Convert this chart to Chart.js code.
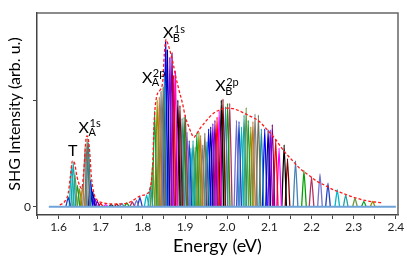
<!DOCTYPE html>
<html>
<head>
<meta charset="utf-8">
<script src="https://cdn.jsdelivr.net/npm/chart.js@4.4.1/dist/chart.umd.min.js"></script>
<style>
  html, body { margin: 0; padding: 0; background: #fff; }
  canvas { display: block; }
</style>
</head>
<body>
<canvas id="shgChart" width="407" height="257"></canvas>
<script>
// Individual SHG peaks: centre energy (eV) and height (arb. u.)
const peakEnergy = [
  1.623, 1.631, 1.635, 1.639, 1.645, 1.650, 1.657, 1.663, 1.668, 1.671,
  1.676, 1.681, 1.686, 1.692, 1.700, 1.712, 1.725, 1.738, 1.750, 1.762,
  1.775, 1.785, 1.793, 1.809, 1.818, 1.823, 1.828, 1.834, 1.839, 1.843,
  1.848, 1.851, 1.854, 1.858, 1.864, 1.869, 1.873, 1.877, 1.883, 1.888,
  1.893, 1.898, 1.901, 1.905, 1.910, 1.914, 1.919, 1.924, 1.928, 1.933,
  1.937, 1.942, 1.947, 1.952, 1.956, 1.961, 1.966, 1.971, 1.976, 1.981,
  1.986, 1.990, 1.996, 2.001, 2.006, 2.022, 2.028, 2.034, 2.040, 2.045,
  2.050, 2.056, 2.061, 2.066, 2.074, 2.081, 2.089, 2.097, 2.102, 2.107,
  2.115, 2.123, 2.135, 2.143, 2.162, 2.182, 2.200, 2.220, 2.239, 2.261,
  2.281, 2.303, 2.324, 2.345
];
const peakHeight = [
  0.09, 0.39, 0.42, 0.31, 0.20, 0.17, 0.19, 0.56, 0.64, 0.60,
  0.25, 0.14, 0.08, 0.05, 0.03, 0.02, 0.02, 0.025, 0.03, 0.035,
  0.045, 0.06, 0.09, 0.11, 0.19, 0.40, 0.90, 1.00, 1.03, 1.08,
  1.12, 1.22, 1.55, 1.47, 1.40, 1.44, 1.23, 1.27, 1.00, 0.95,
  0.83, 0.84, 0.86, 0.70, 0.62, 0.55, 0.62, 0.56, 0.69, 0.70,
  0.67, 0.58, 0.69, 0.61, 0.73, 0.75, 0.78, 0.81, 0.84, 0.90,
  1.00, 1.01, 0.94, 0.97, 0.97, 0.81, 0.80, 0.75, 0.86, 0.93,
  0.81, 0.75, 0.80, 0.87, 0.86, 0.73, 0.73, 0.72, 0.72, 0.77,
  0.63, 0.55, 0.58, 0.45, 0.43, 0.34, 0.28, 0.31, 0.22, 0.16,
  0.11, 0.08, 0.05, 0.05
];

// Red dashed envelope
const envEnergy = [
  1.603, 1.615, 1.623, 1.628, 1.633, 1.638, 1.644, 1.651, 1.655, 1.660,
  1.665, 1.668, 1.673, 1.678, 1.684, 1.692, 1.702, 1.730, 1.761, 1.777,
  1.793, 1.809, 1.817, 1.823, 1.827, 1.832, 1.840, 1.847, 1.851, 1.855,
  1.860, 1.866, 1.872, 1.878, 1.886, 1.894, 1.901, 1.909, 1.915, 1.921,
  1.927, 1.935, 1.951, 1.967, 1.983, 1.998, 2.014, 2.034, 2.054, 2.073,
  2.093, 2.113, 2.133, 2.153, 2.172, 2.192, 2.212, 2.232, 2.251, 2.271,
  2.291, 2.311, 2.330, 2.350, 2.368
];
const envHeight = [
  0.016, 0.05, 0.125, 0.28, 0.43, 0.41, 0.28, 0.19, 0.17, 0.34,
  0.63, 0.665, 0.56, 0.28, 0.125, 0.06, 0.04, 0.025, 0.03, 0.06,
  0.10, 0.12, 0.17, 0.375, 0.81, 1.02, 1.09, 1.17, 1.44, 1.57,
  1.52, 1.44, 1.34, 1.22, 1.09, 0.97, 0.84, 0.75, 0.69, 0.65,
  0.68, 0.73, 0.81, 0.875, 0.91, 0.925, 0.92, 0.89, 0.85, 0.81,
  0.73, 0.64, 0.53, 0.44, 0.36, 0.30, 0.24, 0.20, 0.16, 0.13,
  0.10, 0.075, 0.056, 0.044, 0.037
];

// Baseline extent
const baseEnergy = [1.577, 2.40];

// Axis ticks
const xTicks = [1.55, 1.6, 1.65, 1.7, 1.75, 1.8, 1.85, 1.9, 1.95, 2.0,
                2.05, 2.1, 2.15, 2.2, 2.25, 2.3, 2.35, 2.4];
const xTickLabels = ['', '1.6', '', '1.7', '', '1.8', '', '1.9', '', '2.0',
                     '', '2.1', '', '2.2', '', '2.3', '', '2.4'];
const yTicks = [0, 1];
const yTickLabels = ['0', ''];

// Peak annotations
const labelMain = ['T', 'X', 'X', 'X', 'X'];
const labelSup = ['', '1s', '2p', '1s', '2p'];
const labelSub = ['', 'A', 'A', 'B', 'B'];
const labelEnergy = [1.634, 1.660, 1.810, 1.860, 1.984];
const labelHeight = [0.52, 0.74, 1.21, 1.63, 1.13];

const palette = [
  '#2040c0', '#00b8c8', '#20a0a0', '#6a9a40', '#10a030', '#909000',
  '#c07830', '#808080', '#707058', '#1890a0', '#0000ff', '#000080',
  '#8000ff', '#800080', '#ff0000', '#ff00ff', '#000000', '#800000',
  '#4682b4', '#00a000', '#b03060', '#7070d0'
];

const FONT = 'Lato, "Open Sans", sans-serif';
const HALF_WIDTH = 0.0055;

function buildPeakDatasets() {
  return peakEnergy.map(function(e, i) {
    return {
      data: [
        { x: e - HALF_WIDTH, y: 0 },
        { x: e, y: peakHeight[i] },
        { x: e + HALF_WIDTH, y: 0 }
      ],
      borderColor: palette[i % palette.length],
      borderWidth: 1.3,
      pointRadius: 0,
      tension: 0.15,
      fill: false
    };
  });
}

const frame = {
  id: 'frame',
  afterDraw(chart) {
    const a = chart.chartArea;
    const ctx = chart.ctx;
    ctx.save();
    ctx.strokeStyle = '#666';
    ctx.lineWidth = 1.5;
    ctx.beginPath();
    ctx.moveTo(a.left, a.top);
    ctx.lineTo(a.right, a.top);
    ctx.lineTo(a.right, a.bottom);
    ctx.stroke();
    ctx.restore();
  }
};

const peakLabels = {
  id: 'peakLabels',
  afterDatasetsDraw(chart) {
    const ctx = chart.ctx;
    const sx = chart.scales.x, sy = chart.scales.y;
    ctx.save();
    ctx.fillStyle = '#000';
    ctx.textBaseline = 'middle';
    labelMain.forEach(function(t, i) {
      const px = sx.getPixelForValue(labelEnergy[i]);
      const py = sy.getPixelForValue(labelHeight[i]);
      ctx.font = '16px ' + FONT;
      ctx.textAlign = 'center';
      ctx.fillText(t, px, py);
      if (labelSup[i]) {
        const half = ctx.measureText(t).width / 2;
        ctx.font = '11px ' + FONT;
        ctx.textAlign = 'left';
        ctx.fillText(labelSup[i], px + half + 0.5, py - 4);
        ctx.fillText(labelSub[i], px + half - 0.5, py + 5);
      }
    });
    ctx.restore();
  }
};

const datasets = [
  {
    data: envEnergy.map(function(e, i) { return { x: e, y: envHeight[i] }; }),
    borderColor: '#ff1a1a',
    borderWidth: 1.3,
    borderDash: [3, 2],
    pointRadius: 0,
    cubicInterpolationMode: 'monotone',
    fill: false
  },
  {
    data: baseEnergy.map(function(e) { return { x: e, y: 0 }; }),
    borderColor: '#6fa3d8',
    borderWidth: 2,
    pointRadius: 0,
    fill: false
  }
].concat(buildPeakDatasets());

new Chart(document.getElementById('shgChart').getContext('2d'), {
  type: 'line',
  data: { datasets: datasets },
  options: {
    responsive: false,
    animation: false,
    layout: { padding: { top: 13, right: 9, left: 0, bottom: 0 } },
    plugins: {
      legend: { display: false },
      tooltip: { enabled: false }
    },
    scales: {
      x: {
        type: 'linear',
        min: 1.549,
        max: 2.405,
        afterBuildTicks: function(scale) {
          scale.ticks = xTicks.map(function(v) { return { value: v }; });
        },
        afterFit: function(scale) { scale.height = 42; },
        border: { color: '#444', width: 1.5 },
        grid: { drawOnChartArea: false, drawTicks: true, tickLength: 4, tickColor: '#444' },
        ticks: {
          color: '#222',
          padding: 1,
          maxRotation: 0,
          autoSkip: false,
          font: { family: FONT, size: 12 },
          callback: function(v, i) { return xTickLabels[i]; }
        },
        title: {
          display: true,
          text: 'Energy (eV)',
          color: '#000',
          padding: 0,
          font: { family: FONT, size: 18 }
        }
      },
      y: {
        type: 'linear',
        min: -0.078,
        max: 1.818,
        afterBuildTicks: function(scale) {
          scale.ticks = yTicks.map(function(v) { return { value: v }; });
        },
        afterFit: function(scale) { scale.width = 37; },
        border: { color: '#444', width: 1.5 },
        grid: { drawOnChartArea: false, drawTicks: true, tickLength: 4, tickColor: '#444' },
        ticks: {
          color: '#222',
          padding: 2,
          autoSkip: false,
          font: { family: FONT, size: 12 },
          callback: function(v, i) { return yTickLabels[i]; }
        },
        title: {
          display: true,
          text: 'SHG Intensity (arb. u.)',
          color: '#000',
          padding: { top: 5, bottom: 0 },
          font: { family: FONT, size: 16 }
        }
      }
    }
  },
  plugins: [frame, peakLabels]
});
</script>
</body>
</html>
